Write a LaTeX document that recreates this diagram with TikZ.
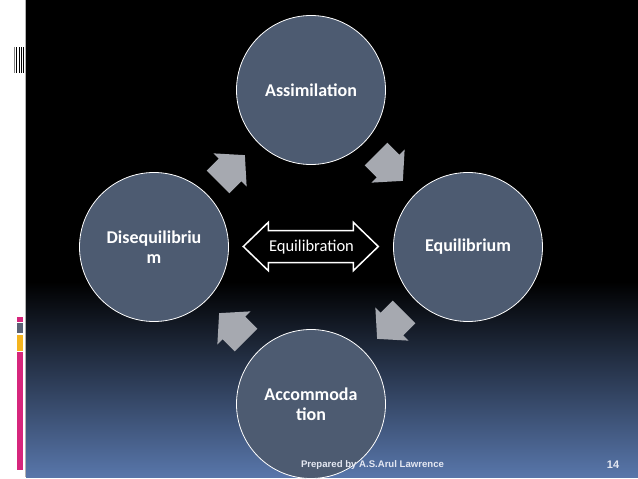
\documentclass[tikz,border=0pt]{standalone}
\usepackage{fontspec}
\setmainfont{Carlito}
\newfontfamily\footfont{Liberation Sans}
\definecolor{circfill}{RGB}{77,91,113}
\definecolor{arrowgray}{RGB}{166,169,176}
\definecolor{bgmid}{RGB}{28,40,64}
\definecolor{bgblue}{RGB}{88,118,170}
\definecolor{footgray}{RGB}{228,232,242}
\definecolor{barpink}{RGB}{214,38,124}
\definecolor{bargray}{RGB}{90,98,117}
\definecolor{barorange}{RGB}{244,180,30}
\tikzset{
  stage/.style={circle, draw=white, line width=0.8pt, fill=circfill,
    minimum size=149pt, inner sep=0pt, text=white, align=center,
    font=\bfseries\fontsize{18}{19.5}\selectfont},
  cyclearrow/.style={fill=arrowgray, draw=none},
  footer/.style={text=footgray, font=\footfont\bfseries\fontsize{9.6}{11}\selectfont},
  pagenum/.style={text=footgray, font=\footfont\bfseries\fontsize{11}{12}\selectfont},
  eqlabel/.style={text=white, font=\fontsize{16.5}{18}\selectfont, inner sep=0pt},
  dblarrow/.style={draw=white, line width=1.5pt, fill=black, line join=miter}
}
\begin{document}
\begin{tikzpicture}[x=1pt,y=-1pt]
\useasboundingbox (0,0) rectangle (638,479);
% background
\fill[white] (0,0) rectangle (638,479);
\fill[black] (26,0) rectangle (638,282);
\shade[top color=black, middle color=bgmid, bottom color=bgblue] (26,281.5) rectangle (638,477);
\draw[gray!60, line width=0.6pt] (25.7,0) -- (25.7,477);
% barcode mark
\foreach \xx/\cc in {14.5/gray, 16.6/black, 19.2/black, 21.6/black, 23.6/black}
  \draw[\cc, line width=1.1pt] (\xx,47) -- (\xx,72.5);
% left bars
\fill[barpink] (17.3,316.7) rectangle (23,321.7);
\fill[bargray] (17.3,323) rectangle (23,333);
\fill[barorange] (17.3,335) rectangle (23,350.7);
\fill[barpink] (17.3,352) rectangle (23,469.5);

% stages
\node[stage] (assim) at (311,90) {Assimilation};
\node[stage] (equil) at (468,247) {Equilibrium};
\node[stage] (accom) at (311,404) {Accommoda\\tion};
\node[stage] (diseq) at (154,247) {Disequilibriu\\m};

% cycle arrows
\coordinate (a1) at (218,182);
\coordinate (a2) at (376,154);
\coordinate (a3) at (404,312);
\coordinate (a4) at (246,340);
\foreach \pt/\ang in {a1/45, a2/-45, a3/-135, a4/135}{
  \begin{scope}[shift={(\pt)}, rotate=\ang]
    \fill[cyclearrow] (0,16) -- (17,16) -- (17,23.5) -- (38,0) -- (17,-23.5) -- (17,-16) -- (0,-16) -- cycle;
  \end{scope}
}

% equilibration double arrow
\coordinate (eqc) at (310.8,246.5);
\begin{scope}[shift={(eqc)}]
  \draw[dblarrow] (-67.5,0) -- (-42.5,-24.2) -- (-42.5,-16) -- (42.5,-16) -- (42.5,-24.2)
    -- (67.5,0) -- (42.5,24.2) -- (42.5,16) -- (-42.5,16) -- (-42.5,24.2) -- cycle;
\end{scope}
\node[eqlabel] (eqtext) at (311.5,247) {Equilibration};

% footer
\node[footer] (prep) at (372.5,465) {Prepared by A.S.Arul Lawrence};
\node[pagenum] (pnum) at (613,465) {14};
\end{tikzpicture}
\end{document}
